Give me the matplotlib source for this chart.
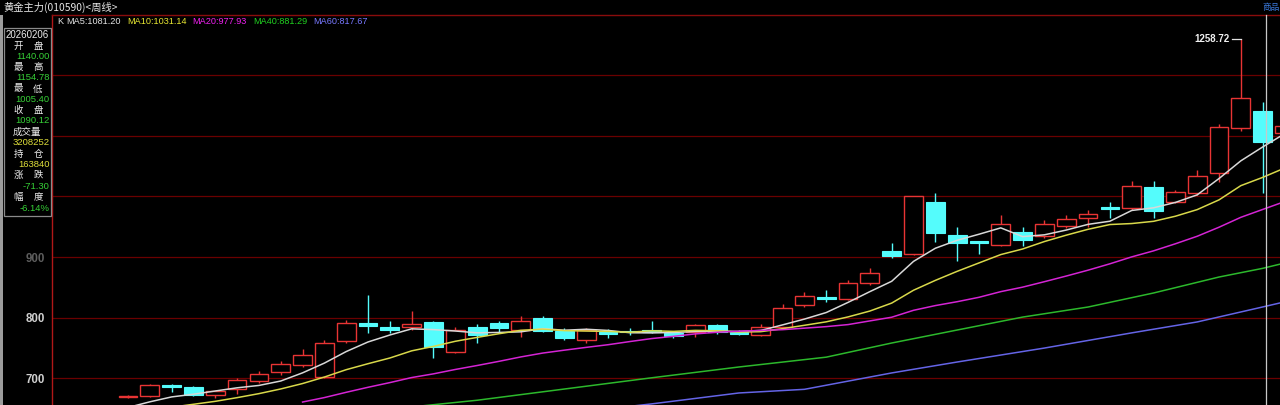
import numpy as np
import pandas as pd
import matplotlib
matplotlib.use("Agg")
import matplotlib.pyplot as plt
from matplotlib.patches import Rectangle
from matplotlib.lines import Line2D

# ---------------- data (weekly candles) ----------------
opens = [669.5, 670.5, 688.0, 685.2, 672.1, 682.0, 695.0, 710.0, 721.3, 701.6,
         762.3, 791.8, 785.2, 785.0, 793.4, 744.3, 785.2, 791.8, 780.3, 800.0,
         778.7, 764.0, 777.0, 778.0, 780.3, 775.4, 777.0, 788.5, 777.0, 772.1,
         785.2, 821.3, 834.4, 831.1, 857.4, 909.8, 904.9, 990.2, 936.1, 926.2,
         919.7, 941.0, 934.4, 950.8, 963.9, 981.0, 980.3, 1014.8, 990.2, 1004.9,
         1037.7, 1113.1, 1140.0, 1105.0]
highs = [673.0, 690.0, 691.0, 687.0, 680.0, 701.0, 713.0, 728.0, 749.0, 763.9,
         796.7, 837.7, 795.1, 811.5, 795.0, 785.0, 790.0, 795.0, 803.3, 802.0,
         783.0, 783.6, 782.0, 783.0, 795.0, 778.0, 790.0, 790.0, 779.0, 790.0,
         823.0, 842.6, 845.9, 862.0, 882.0, 923.0, 1001.0, 1004.9, 949.2, 926.5,
         968.9, 949.2, 960.7, 968.9, 977.0, 990.2, 1024.6, 1024.6, 1011.0, 1042.6,
         1119.7, 1258.72, 1154.78, 1118.0]
lows = [667.0, 669.0, 677.0, 671.0, 667.0, 674.0, 693.0, 706.0, 719.0, 700.0,
        758.0, 775.4, 775.4, 780.3, 732.8, 742.0, 759.0, 776.0, 768.9, 776.0,
        764.0, 759.0, 767.0, 772.0, 775.0, 767.0, 768.0, 773.0, 771.0, 770.0,
        783.0, 818.0, 826.2, 829.5, 854.0, 898.4, 903.0, 924.6, 893.4, 905.7,
        918.0, 918.0, 931.0, 947.5, 949.0, 963.9, 977.0, 963.9, 988.5, 1001.6,
        1022.9, 1108.2, 1005.4, 1100.0]
closes = [670.5, 688.5, 686.5, 672.1, 678.7, 696.7, 708.0, 723.0, 739.3, 759.0,
          791.8, 787.0, 780.3, 790.2, 752.5, 780.3, 772.1, 783.6, 795.1, 778.7,
          767.2, 780.3, 773.8, 776.5, 777.0, 770.5, 788.5, 777.0, 773.8, 785.2,
          816.4, 836.1, 831.1, 857.4, 873.8, 901.6, 1000.0, 939.3, 923.0, 923.6,
          954.1, 927.9, 954.1, 962.3, 970.5, 980.0, 1016.4, 976.0, 1006.6, 1032.8,
          1114.4, 1162.3, 1090.12, 1115.0]
# closes of the weeks before the first visible candle (estimated from the MA lines)
prior_closes = [612.0, 618.0, 622.0, 626.0, 624.0, 630.0, 636.0, 642.0, 646.0, 650.0, 652.0]

# long moving averages (candle index -> value)
ma40_idx = [13, 16, 20, 24, 28, 32, 35, 38, 41, 44, 47, 50, 52, 53]
ma40_val = [653, 664, 682.5, 701, 718.8, 735, 758.3, 779.7, 801, 817.6, 840.7, 867, 881.29, 890]
ma60_idx = [22, 24, 28, 31, 35, 38, 42, 46, 49, 52, 53]
ma60_val = [650, 658, 676, 682, 709, 727, 750, 775, 793, 817.67, 826]

ma_labels = ["MA5:1081.20", "MA10:1031.14", "MA20:977.93", "MA40:881.29", "MA60:817.67"]
grid_levels = [700, 800, 900, 1000, 1100, 1200]
axis_labels = [700, 800, 900]
title = "黄金主力(010590)<周线>"
info_date = "20260206"
info_rows = [("开", "盘", "1140.00", "g"), ("最", "高", "1154.78", "g"),
             ("最", "低", "1005.40", "g"), ("收", "盘", "1090.12", "g"),
             ("成交量", None, "3208252", "y"), ("持", "仓", "163840", "y"),
             ("涨", "跌", "-71.30", "g"), ("幅", "度", "-6.14%", "g")]
peak_label = "1258.72"

# ---------------- styling ----------------
W, H = 1280, 405
RED = "#e83434"
CYAN = "#54fcfc"
GRID = "#6a0000"
MA_COLORS = ["#d8d8d8", "#d8d84a", "#d424d4", "#2cb82c", "#6464e6"]
LEG_COLORS = ["#e4e4e4", "#e8e832", "#f020f0", "#20d020", "#7878ff"]
CJK = ["Noto Sans CJK SC", "DejaVu Sans"]
LAT = ["Liberation Sans", "Noto Sans CJK SC", "DejaVu Sans"]

fig = plt.figure(figsize=(12.8, 4.05), dpi=100, facecolor="black")


def fx(px):
    return px / W


def fy(py):
    return 1 - py / H


ax_top, ax_left = 15, 52
ax = fig.add_axes([fx(ax_left), 0, 1 - fx(ax_left), (H - ax_top) / H])
ax.set_facecolor("black")

# price scale: 800 at y=317.7px, 0.607 px per unit
ppu = 0.607
ax.set_ylim(800 - (H - 317.7) / ppu, 800 + (317.7 - ax_top) / ppu)
step = 21.82
ax.set_xlim((ax_left - 128) / step, (W - 128) / step)

for s in ["right", "bottom"]:
    ax.spines[s].set_visible(False)
ax.spines["left"].set_color("#b01818")
ax.spines["top"].set_color("#8a0c0c")
ax.spines["left"].set_linewidth(1.0)
ax.spines["top"].set_linewidth(1.0)

for lv in grid_levels:
    ax.axhline(lv, color=GRID, lw=0.9, zorder=1)

ax.set_xticks([])
ax.set_yticks(axis_labels)
ax.set_yticklabels([str(v) for v in axis_labels], family=LAT, fontsize=8.3,
                   color="#d0d0d0", fontweight="bold")
ax.tick_params(axis="y", length=0, pad=5)
for t in ax.get_yticklabels():
    if t.get_text() == "900":
        t.set_alpha(0.45)

# ---------------- candles ----------------
w = 0.86
n = len(closes)
for i in range(n):
    o, h, l, c = opens[i], highs[i], lows[i], closes[i]
    up = c >= o
    col = RED if up else CYAN
    top, bot = max(o, c), min(o, c)
    body = max(top - bot, 2.2)
    if body > top - bot:
        mid = (top + bot) / 2
        top, bot = mid + body / 2, mid - body / 2
    ax.plot([i, i], [top, h], color=col, lw=1.0, zorder=2, solid_capstyle="butt")
    ax.plot([i, i], [l, bot], color=col, lw=1.0, zorder=2, solid_capstyle="butt")
    if up:
        ax.add_patch(Rectangle((i - w / 2, bot), w, top - bot, facecolor="black",
                               edgecolor=col, lw=1.0, zorder=3))
    else:
        ax.add_patch(Rectangle((i - w / 2, bot), w, top - bot, facecolor=col,
                               edgecolor=col, lw=0.8, zorder=3))

# ---------------- moving averages ----------------
allc = pd.Series(prior_closes + closes)
k = len(prior_closes)
x = np.arange(n)
for period, colr in zip([5, 10, 20], MA_COLORS[:3]):
    ma = allc.rolling(period).mean().to_numpy()[k:]
    ax.plot(x, ma, color=colr, lw=1.1, zorder=4)
ax.plot(ma40_idx, ma40_val, color=MA_COLORS[3], lw=1.1, zorder=4)
ax.plot(ma60_idx, ma60_val, color=MA_COLORS[4], lw=1.1, zorder=4)

# peak annotation
pk = int(np.argmax(highs))
ax.plot([pk - 0.42, pk], [highs[pk], highs[pk]], color="#e0e0e0", lw=0.9, zorder=5)
ax.text(pk - 0.5, highs[pk], peak_label, color="#f0f0f0", fontsize=7, family=LAT,
        fontweight="bold", ha="right", va="center", zorder=5)

# ---------------- figure-level decorations ----------------
fig.patches.append(Rectangle((0, 0), fx(2.5), fy(ax_top), transform=fig.transFigure,
                             facecolor="#9c9c9c", edgecolor="none"))
fig.text(fx(3), fy(7.5), title, family=CJK, fontsize=7.4, color="#e6e6e6",
         ha="left", va="center")
fig.text(fx(1279.5), fy(7.5), "商品", family=CJK, fontsize=6.2, color="#3c7ce0",
         ha="right", va="center")
fig.add_artist(Line2D([fx(1265.5), fx(1265.5)], [0, fy(ax_top)], color="#c8c8c8", lw=0.9,
                      transform=fig.transFigure))

fig.text(fx(57), fy(22), "K", family=LAT, fontsize=6.6, color="#e4e4e4",
         ha="left", va="center")
for lbl, xp, colr in zip(ma_labels, [66, 127, 192, 253, 313], LEG_COLORS):
    fig.text(fx(xp), fy(22), lbl, family=LAT, fontsize=6.6, color=colr,
             ha="left", va="center")

# info box
fig.patches.append(Rectangle((fx(3.5), fy(215.5)), fx(47), (215.5 - 28) / H,
                             transform=fig.transFigure, facecolor="black",
                             edgecolor="#8a8a8a", lw=0.9, zorder=5))
fig.text(fx(27), fy(35.5), info_date, family=LAT, fontsize=7, color="#ececec",
         ha="center", va="center", zorder=6)
valc = {"g": "#36d036", "y": "#dede3a"}
ylab = [46.5, 67.5, 89, 110, 132, 154, 175.5, 197.5]
yval = [56.5, 77.5, 99, 120.5, 142.5, 164.5, 187, 208.5]
for (a, b, v, cc), yl, yv in zip(info_rows, ylab, yval):
    if b is None:
        fig.text(fx(27), fy(yl), a, family=CJK, fontsize=6.8, color="#ececec",
                 ha="center", va="center", zorder=6)
    else:
        fig.text(fx(18), fy(yl), a, family=CJK, fontsize=6.8, color="#ececec",
                 ha="center", va="center", zorder=6)
        fig.text(fx(38), fy(yl), b, family=CJK, fontsize=6.8, color="#ececec",
                 ha="center", va="center", zorder=6)
    fig.text(fx(49.5), fy(yv), v, family=LAT, fontsize=6.8, color=valc[cc],
             ha="right", va="center", zorder=6)

fig.savefig("out.png", dpi=100, facecolor="black")
